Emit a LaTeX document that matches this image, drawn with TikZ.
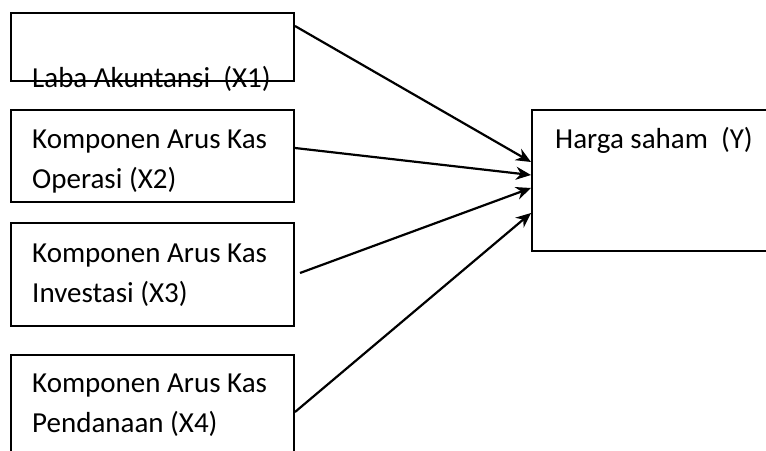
\documentclass[tikz,border=0pt]{standalone}
\usepackage{fontspec}
\setmainfont{Carlito}
\usetikzlibrary{arrows.meta}
\begin{document}
\begin{tikzpicture}[x=1pt,y=-1pt,
  box/.style={draw=black, line width=2pt, rectangle, inner sep=0pt, anchor=north west},
  lbl/.style={anchor=base west, inner sep=0pt, align=left, font=\fontsize{29}{40}\selectfont},
  arr/.style={line width=2.2pt, -{Stealth[length=15pt,width=13pt]}}]
\useasboundingbox (0,0) rectangle (766,450);
\fill[white] (0,0) rectangle (766,450);
% boxes
\node[box, minimum width=283pt, minimum height=68pt] (b1) at (10,12) {};
\node[box, minimum width=283pt, minimum height=92pt] (b2) at (10,109) {};
\node[box, minimum width=283pt, minimum height=103pt] (b3) at (10,222) {};
\node[box, minimum width=283pt, minimum height=120pt] (b4) at (10,354) {};
\node[box, minimum width=260pt, minimum height=141pt] (y) at (531,109) {};
% texts
\node[lbl] (t1) at (32,87) {Laba Akuntansi\ \ (X1)};
\node[lbl] (t2) at (32,188) {Komponen Arus Kas\\Operasi (X2)};
\node[lbl] (t3) at (32,302) {Komponen Arus Kas\\Investasi (X3)};
\node[lbl] (t4) at (32,432) {Komponen Arus Kas\\Pendanaan (X4)};
\node[lbl] (ty) at (555,148) {Harga saham\ \ (Y)};
% arrows
\draw[arr] ([yshift=-14pt]b1.north east) -- ([yshift=-53pt]y.north west);
\draw[arr] ([yshift=-39pt]b2.north east) -- ([yshift=-66pt]y.north west);
\draw[arr] ([xshift=5pt,yshift=-51pt]b3.north east) -- ([yshift=-79pt]y.north west);
\draw[arr] ([yshift=-58pt]b4.north east) -- ([yshift=-104pt]y.north west);
\end{tikzpicture}
\end{document}
